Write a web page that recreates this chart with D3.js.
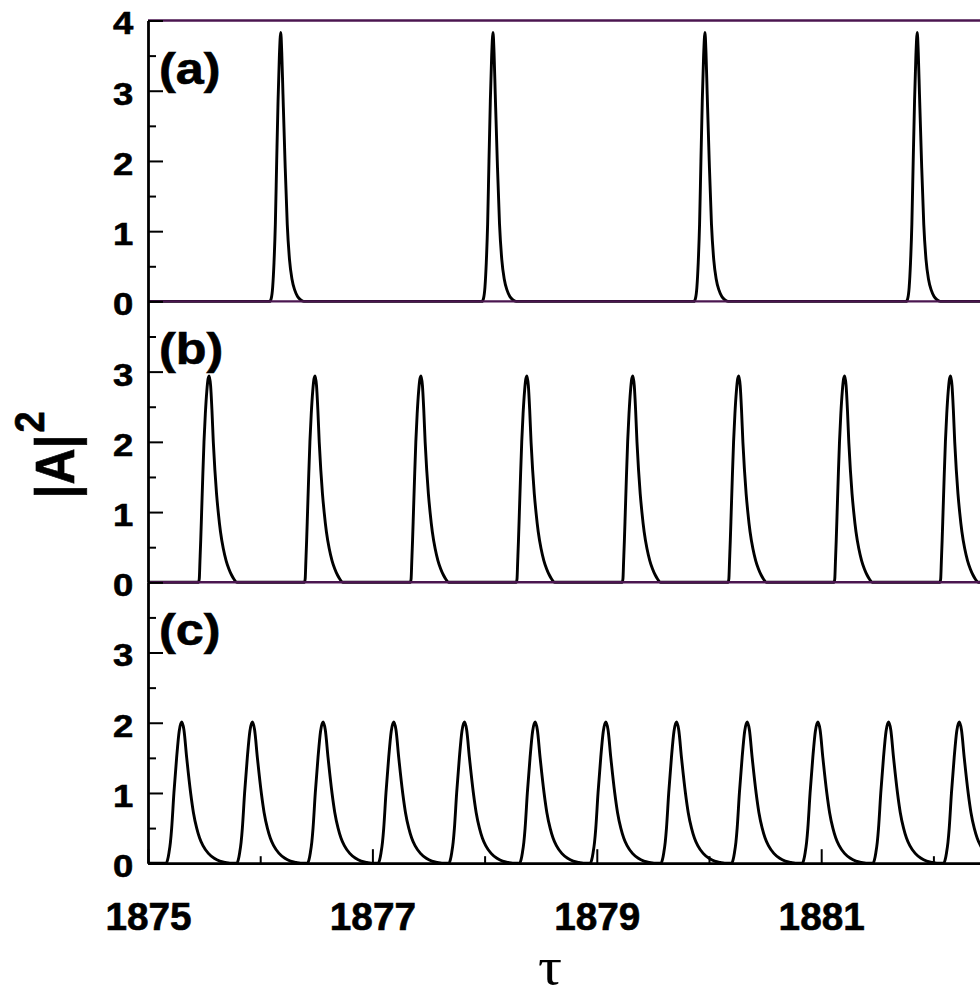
<!DOCTYPE html>
<html>
<head>
<meta charset="utf-8">
<script src="https://cdn.jsdelivr.net/npm/d3@7/dist/d3.min.js"></script>
<style>
  html, body { margin: 0; padding: 0; background: #fff; }
  svg { display: block; }
</style>
</head>
<body>
<svg id="chart" width="980" height="994"></svg>
<script>
// ---------------- DATA ----------------
const xMajorTicks = [1875, 1877, 1879, 1881];
const xMinorTicks = [1876, 1878, 1880, 1882];
const yMajorTop = [0, 1, 2, 3, 4];
const yMajorOther = [0, 1, 2, 3];
const yMinorTicks = [0.5, 1.5, 2.5, 3.5];
const panelLabels = ["(a)", "(b)", "(c)"];
const xTitle = "\u03c4";
const yTitleMain = "|A|";
const yTitleSup = "2";

// peak positions (tau)
const peakTimesA = [1876.183, 1878.075, 1879.964, 1881.856];
const peakTimesB = [1875.546, 1876.490, 1877.434, 1878.378, 1879.322, 1880.266, 1881.210, 1882.154];
const peakTimesC = [1875.300, 1875.930, 1876.560, 1877.190, 1877.820, 1878.450,
                    1879.080, 1879.710, 1880.340, 1880.970, 1881.600, 1882.230];

// single-pulse profiles: [offset from peak (tau), |A|^2]
const pulseA = [[-0.098, 0], [-0.085, 0.04], [-0.072, 0.2], [-0.060, 0.55], [-0.048, 1.1],
                [-0.036, 2.0], [-0.024, 2.85], [-0.012, 3.5], [0, 3.83], [0.009, 3.55],
                [0.020, 2.95], [0.038, 2.0], [0.058, 1.1], [0.078, 0.6], [0.100, 0.32],
                [0.125, 0.16], [0.150, 0.07], [0.175, 0.025], [0.205, 0]];
const pulseB = [[-0.096, 0], [-0.089, 0.05], [-0.083, 0.3], [-0.076, 0.6], [-0.068, 1.0],
                [-0.058, 1.5], [-0.047, 2.0], [-0.035, 2.4], [-0.022, 2.72], [-0.010, 2.9],
                [0, 2.94], [0.012, 2.8], [0.024, 2.45], [0.036, 2.0], [0.050, 1.6],
                [0.065, 1.26], [0.080, 1.0], [0.100, 0.72], [0.125, 0.48], [0.150, 0.31],
                [0.175, 0.19], [0.200, 0.1], [0.222, 0.04], [0.245, 0]];
const pulseC = [[-0.138, 0], [-0.125, 0.05], [-0.113, 0.15], [-0.100, 0.3], [-0.089, 0.5],
                [-0.069, 1.0], [-0.045, 1.5], [-0.022, 1.88], [0, 2.01], [0.020, 1.9],
                [0.045, 1.5], [0.080, 1.0], [0.105, 0.72], [0.134, 0.5], [0.160, 0.36],
                [0.190, 0.25], [0.238, 0.14], [0.290, 0.07], [0.340, 0.03], [0.390, 0.01],
                [0.430, 0]];

// ---------------- LAYOUT ----------------
const svg = d3.select("#chart");
const left = 148;
const xDomain = [1875, 1885];
const x = d3.scaleLinear().domain(xDomain).range([left, left + 1122]);
const panelTop = 20.5, panelH = 280.9;
const purple = "#4b1650";
const sansFont = "'Liberation Sans', Arial, Helvetica, sans-serif";

const panels = [
  { peaks: peakTimesA, pulse: pulseA, majors: yMajorTop },
  { peaks: peakTimesB, pulse: pulseB, majors: yMajorOther },
  { peaks: peakTimesC, pulse: pulseC, majors: yMajorOther }
];

function buildSeries(peaks, pulse) {
  const pts = [[xDomain[0], 0]];
  peaks.forEach(p => pulse.forEach(([dt, v]) => pts.push([p + dt, v])));
  pts.push([xDomain[1], 0]);
  return pts;
}

function heavy(sel) {
  return sel.attr("fill", "#000").attr("stroke", "#000").attr("stroke-width", 0.6)
    .attr("font-family", sansFont).attr("font-weight", "bold");
}

panels.forEach((pn, i) => {
  const top = panelTop + i * panelH;
  const bottom = top + panelH;
  const y = d3.scaleLinear().domain([0, 4]).range([bottom, top]);
  const g = svg.append("g");

  // curve
  const line = d3.line().x(d => x(d[0])).y(d => y(d[1])).curve(d3.curveMonotoneX);
  g.append("path")
    .datum(buildSeries(pn.peaks, pn.pulse))
    .attr("d", line)
    .attr("fill", "none")
    .attr("stroke", "#000")
    .attr("stroke-width", 2.9)
    .attr("stroke-linejoin", "round");

  // purple frame lines (top of (a), zero lines of (a) and (b))
  if (i === 0) {
    g.append("line").attr("x1", x(xDomain[0])).attr("x2", x(xDomain[1]))
      .attr("y1", y(4)).attr("y2", y(4))
      .attr("stroke", purple).attr("stroke-width", 2.4);
  }
  if (i < 2) {
    g.append("line").attr("x1", x(xDomain[0])).attr("x2", x(xDomain[1]))
      .attr("y1", y(0)).attr("y2", y(0))
      .attr("stroke", purple).attr("stroke-width", 2.4);
  }

  // y axis minor ticks
  g.append("g").attr("transform", `translate(${left},0)`)
    .call(d3.axisLeft(y).tickValues(yMinorTicks).tickSizeInner(-8).tickSizeOuter(0).tickFormat(""))
    .call(a => a.select(".domain").remove())
    .call(a => a.selectAll("line").attr("stroke", "#000").attr("stroke-width", 2));

  // y axis major ticks + labels
  g.append("g").attr("transform", `translate(${left},0)`)
    .call(d3.axisLeft(y).tickValues(pn.majors).tickSizeInner(-15).tickSizeOuter(0)
      .tickPadding(13).tickFormat(d3.format("d")))
    .call(a => a.select(".domain").attr("stroke", "#000").attr("stroke-width", 2.8))
    .call(a => a.selectAll("line").attr("stroke", "#000").attr("stroke-width", 2))
    .call(a => heavy(a.selectAll("text"))
      .attr("font-size", 32)
      .attr("dy", "0.42em")
      .attr("transform", "scale(1.14,1)"));

  // panel label
  heavy(g.append("text"))
    .attr("transform", `translate(159,${top + 63}) scale(1.12,1)`)
    .attr("font-size", 45)
    .text(panelLabels[i]);
});

// bottom x axis
const xAxisY = panelTop + 3 * panelH;
svg.append("g").attr("transform", `translate(0,${xAxisY})`)
  .call(d3.axisBottom(x).tickValues(xMinorTicks).tickSizeInner(-7).tickSizeOuter(0).tickFormat(""))
  .call(a => a.select(".domain").remove())
  .call(a => a.selectAll("line").attr("stroke", "#000").attr("stroke-width", 2));
svg.append("g").attr("transform", `translate(0,${xAxisY})`)
  .call(d3.axisBottom(x).tickValues(xMajorTicks).tickSizeInner(-14).tickSizeOuter(0)
    .tickPadding(67).tickFormat(d3.format("d")))
  .call(a => a.select(".domain").attr("stroke", "#000").attr("stroke-width", 2.8))
  .call(a => a.selectAll("line").attr("stroke", "#000").attr("stroke-width", 2))
  .call(a => heavy(a.selectAll("text"))
    .attr("font-size", 38)
    .attr("dy", "0em")
    .attr("transform", "scale(1.02,1)"));

// x title
svg.append("text")
  .attr("transform", `translate(550,984) scale(1.15,1)`)
  .attr("text-anchor", "middle")
  .attr("font-family", "'Liberation Serif', 'Times New Roman', serif")
  .attr("font-size", 52)
  .attr("fill", "#000")
  .text(xTitle);

// y title |A|^2 (rotated)
const yt = heavy(svg.append("text"))
  .attr("transform", `translate(74,455) scale(1.1,1) rotate(-90)`)
  .attr("text-anchor", "middle")
  .attr("font-size", 50);
yt.append("tspan").text(yTitleMain);
yt.append("tspan").attr("dy", -27).attr("dx", 2).attr("font-size", 38).text(yTitleSup);
</script>
</body>
</html>
